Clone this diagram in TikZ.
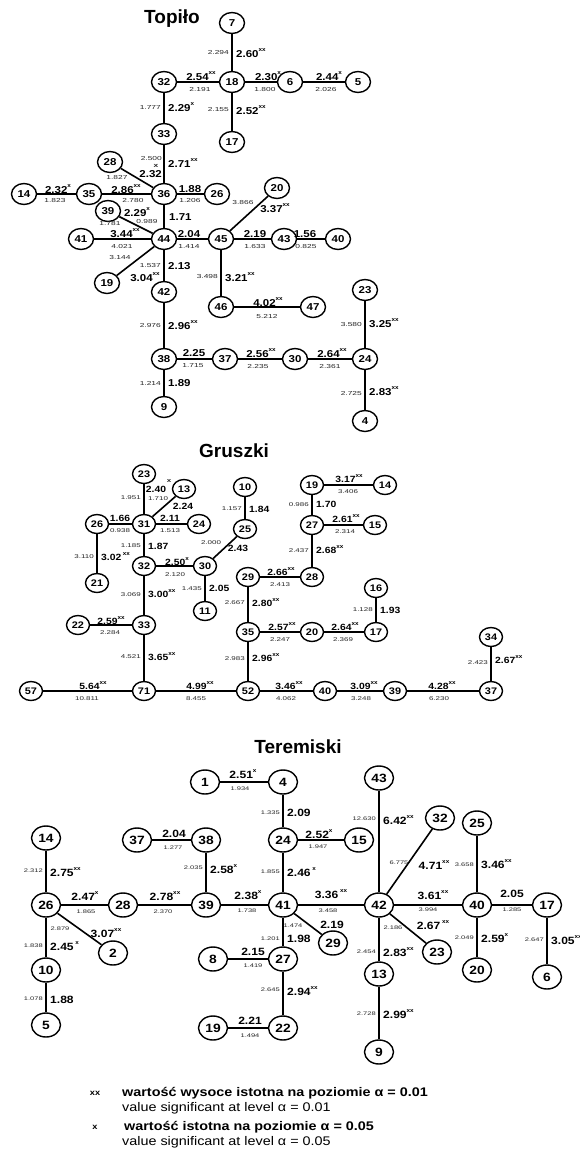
\documentclass[tikz,border=0pt]{standalone}
\usepackage{fontspec}
\setmainfont{Liberation Sans}[FakeStretch=1.15]
\newfontfamily\wsf[FakeStretch=1.45]{Liberation Sans}
\newfontfamily\ttf{Liberation Sans}
\usetikzlibrary{shapes.geometric}
\newcommand{\xxs}{\raisebox{0.55em}{\fontsize{5.5}{5.5}\selectfont\bfseries xx}}
\newcommand{\xs}{\raisebox{0.55em}{\fontsize{5.5}{5.5}\selectfont\bfseries x}}
\tikzset{
 nd/.style={draw, ellipse, line width=1.4pt, minimum width=25pt, minimum height=21pt, inner sep=0pt, fill=white, font=\bfseries\fontsize{10}{10}\selectfont},
 gnd/.style={nd, minimum width=23pt, minimum height=19pt, font=\bfseries\fontsize{9.5}{9.5}\selectfont},
 rnd/.style={nd, minimum width=29pt, minimum height=24pt, font=\bfseries\fontsize{12}{12}\selectfont},
 ed/.style={line width=1.6pt},
 bl/.style={inner sep=0pt, font=\bfseries\fontsize{10}{10}\selectfont},
 sl/.style={inner sep=0pt, font=\wsf\fontsize{5.8}{5.8}\selectfont, text=black!85},
 gbl/.style={bl, font=\bfseries\fontsize{9}{9}\selectfont},
 gsl/.style={sl, font=\wsf\fontsize{5.5}{5.5}\selectfont},
 rbl/.style={bl, font=\bfseries\fontsize{10.5}{10.5}\selectfont},
 rsl/.style={sl, font=\wsf\fontsize{5.2}{5.2}\selectfont},
 ttl/.style={inner sep=0pt, font=\ttf\bfseries\fontsize{19}{19}\selectfont},
 lgb/.style={inner sep=0pt, anchor=west, font=\bfseries\fontsize{12.5}{12.5}\selectfont},
 lgn/.style={inner sep=0pt, anchor=west, font=\fontsize{12.5}{12.5}\selectfont},
}
\begin{document}
\begin{tikzpicture}[x=1pt,y=-1pt]
\useasboundingbox (0,0) rectangle (580,1164);
\fill[white] (0,0) rectangle (580,1164);
% ================= Topilo =================
\node[ttl] (tT) at (172,19) {Topiło};
\node[nd] (T7) at (232,23) {7};
\node[nd] (T18) at (232,82) {18};
\node[nd] (T32) at (164,82) {32};
\node[nd] (T6) at (290,82) {6};
\node[nd] (T5) at (358,82) {5};
\node[nd] (T17) at (232,142) {17};
\node[nd] (T33) at (164,134) {33};
\node[nd] (T28) at (110,162) {28};
\node[nd] (T36) at (164,194) {36};
\node[nd] (T35) at (89,194) {35};
\node[nd] (T14) at (24,194) {14};
\node[nd] (T26) at (217,194) {26};
\node[nd] (T20) at (277,188) {20};
\node[nd] (T39) at (108,211) {39};
\node[nd] (T44) at (164,239) {44};
\node[nd] (T41) at (81,239) {41};
\node[nd] (T45) at (221,239) {45};
\node[nd] (T43) at (284,239) {43};
\node[nd] (T40) at (338,239) {40};
\node[nd] (T19) at (107,283) {19};
\node[nd] (T42) at (164,292) {42};
\node[nd] (T46) at (221,307) {46};
\node[nd] (T47) at (313,307) {47};
\node[nd] (T38) at (164,359) {38};
\node[nd] (T37) at (225,359) {37};
\node[nd] (T30) at (295,359) {30};
\node[nd] (T24) at (365,359) {24};
\node[nd] (T23) at (365,290) {23};
\node[nd] (T4) at (365,421) {4};
\node[nd] (T9) at (164,407) {9};
\foreach \a/\b in {T18/T7,T18/T32,T18/T6,T6/T5,T18/T17,T32/T33,T33/T36,T28/T36,T14/T35,T35/T36,T36/T26,T39/T44,T36/T44,T41/T44,T44/T45,T45/T43,T43/T40,T45/T20,T19/T44,T44/T42,T45/T46,T46/T47,T42/T38,T38/T37,T37/T30,T30/T24,T24/T23,T24/T4,T38/T9}
  \draw[ed] (\a) -- (\b);
\node[sl,anchor=east] (ta1) at (229,53) {2.294};
\node[bl,anchor=west] (ta2) at (236,53) {2.60\xxs};
\node[bl] (ta3) at (201,76) {2.54\xxs};
\node[sl] (ta4) at (200,90) {2.191};
\node[bl] (ta5) at (268,76) {2.30\xs};
\node[sl] (ta6) at (265,90) {1.800};
\node[bl] (ta7) at (329,76) {2.44\xs};
\node[sl] (ta8) at (326,90) {2.026};
\node[sl,anchor=east] (ta9) at (161,108) {1.777};
\node[bl,anchor=west] (ta10) at (168,107) {2.29\xs};
\node[sl,anchor=east] (ta11) at (229,110) {2.155};
\node[bl,anchor=west] (ta12) at (236,110) {2.52\xxs};
\node[sl,anchor=east] (ta13) at (162,159) {2.500};
\node[sl] (ta14) at (156,166) {\bfseries x};
\node[bl,anchor=west] (ta15) at (168,163) {2.71\xxs};
\node[bl,anchor=east] (ta16) at (162,174) {2.32};
\node[sl] (ta17) at (117,178) {1.827};
\node[bl] (ta18) at (58,189) {2.32\xs};
\node[sl] (ta19) at (55,201) {1.823};
\node[bl] (ta20) at (126,189) {2.86\xxs};
\node[sl] (ta21) at (133,201) {2.780};
\node[bl] (ta22) at (190,189) {1.88};
\node[sl] (ta23) at (190,201) {1.206};
\node[bl] (ta24) at (137,212) {2.29\xs};
\node[sl] (ta25) at (147,222) {0.989};
\node[sl] (ta26) at (110,224) {1.781};
\node[bl,anchor=west] (ta27) at (169,217) {1.71};
\node[bl] (ta28) at (125,233) {3.44\xxs};
\node[sl] (ta29) at (122,247) {4.021};
\node[bl] (ta30) at (189,234) {2.04};
\node[sl] (ta31) at (189,247) {1.414};
\node[bl] (ta32) at (255,234) {2.19};
\node[sl] (ta33) at (255,247) {1.633};
\node[bl] (ta34) at (305,234) {1.56};
\node[sl] (ta35) at (306,247) {0.825};
\node[sl] (ta36) at (243,203) {3.866};
\node[bl] (ta37) at (275,208) {3.37\xxs};
\node[sl] (ta38) at (120,258) {3.144};
\node[bl] (ta39) at (145,277) {3.04\xxs};
\node[sl,anchor=east] (ta40) at (161,266) {1.537};
\node[bl,anchor=west] (ta41) at (168,266) {2.13};
\node[sl,anchor=east] (ta42) at (218,277) {3.498};
\node[bl,anchor=west] (ta43) at (225,277) {3.21\xxs};
\node[bl] (ta44) at (268,302) {4.02\xxs};
\node[sl] (ta45) at (267,316) {5.212};
\node[sl,anchor=east] (ta46) at (161,325) {2.976};
\node[bl,anchor=west] (ta47) at (168,325) {2.96\xxs};
\node[bl] (ta48) at (194,353) {2.25};
\node[sl] (ta49) at (193,366) {1.715};
\node[bl] (ta50) at (261,353) {2.56\xxs};
\node[sl] (ta51) at (258,366) {2.235};
\node[bl] (ta52) at (332,353) {2.64\xxs};
\node[sl] (ta53) at (330,366) {2.361};
\node[sl,anchor=east] (ta54) at (362,324) {3.580};
\node[bl,anchor=west] (ta55) at (369,323) {3.25\xxs};
\node[sl,anchor=east] (ta56) at (362,393) {2.725};
\node[bl,anchor=west] (ta57) at (369,391) {2.83\xxs};
\node[sl,anchor=east] (ta58) at (161,383) {1.214};
\node[bl,anchor=west] (ta59) at (168,383) {1.89};
% ================= Gruszki =================
\node[ttl] (gT) at (234,451) {Gruszki};
\node[gnd] (G23) at (144,474) {23};
\node[gnd] (G13) at (184,489) {13};
\node[gnd] (G10) at (245,487) {10};
\node[gnd] (G26) at (97,524) {26};
\node[gnd] (G31) at (144,524) {31};
\node[gnd] (G24) at (199,524) {24};
\node[gnd] (G25) at (245,529) {25};
\node[gnd] (G19) at (312,485) {19};
\node[gnd] (G14) at (385,485) {14};
\node[gnd] (G27) at (312,525) {27};
\node[gnd] (G15) at (375,525) {15};
\node[gnd] (G32) at (144,566) {32};
\node[gnd] (G30) at (205,566) {30};
\node[gnd] (G21) at (97,583) {21};
\node[gnd] (G29) at (248,577) {29};
\node[gnd] (G28) at (312,577) {28};
\node[gnd] (G16) at (376,588) {16};
\node[gnd] (G11) at (205,611) {11};
\node[gnd] (G22) at (78,625) {22};
\node[gnd] (G33) at (144,625) {33};
\node[gnd] (G35) at (248,632) {35};
\node[gnd] (G20) at (312,632) {20};
\node[gnd] (G17) at (376,632) {17};
\node[gnd] (G34) at (491,637) {34};
\node[gnd] (G57) at (31,691) {57};
\node[gnd] (G71) at (144,691) {71};
\node[gnd] (G52) at (248,691) {52};
\node[gnd] (G40) at (325,691) {40};
\node[gnd] (G39) at (395,691) {39};
\node[gnd] (G37) at (491,691) {37};
\foreach \a/\b in {G23/G31,G31/G13,G26/G31,G31/G24,G26/G21,G31/G32,G32/G30,G30/G25,G25/G10,G30/G11,G32/G33,G22/G33,G33/G71,G57/G71,G71/G52,G52/G40,G40/G39,G39/G37,G37/G34,G52/G35,G35/G29,G29/G28,G28/G27,G27/G19,G19/G14,G27/G15,G35/G20,G20/G17,G17/G16}
  \draw[ed] (\a) -- (\b);
\node[gsl,anchor=east] (ga1) at (141,498) {1.951};
\node[gbl] (ga2) at (156,489) {2.40};
\node[gsl] (ga3) at (169,481) {\bfseries x};
\node[gsl] (ga4) at (158,499) {1.710};
\node[gbl] (ga5) at (183,506) {2.24};
\node[gbl] (ga6) at (120,518) {1.66};
\node[gsl] (ga7) at (120,531) {0.938};
\node[gbl] (ga8) at (170,518) {2.11};
\node[gsl] (ga9) at (170,531) {1.513};
\node[gsl,anchor=east] (ga10) at (141,546) {1.185};
\node[gbl,anchor=west] (ga11) at (148,546) {1.87};
\node[gsl,anchor=east] (ga12) at (94,557) {3.110};
\node[gbl,anchor=west] (ga13) at (101,557) {3.02\,\xxs};
\node[gbl] (ga14) at (177,562) {2.50\xs};
\node[gsl] (ga15) at (175,575) {2.120};
\node[gsl] (ga16) at (211,543) {2.000};
\node[gbl] (ga17) at (238,548) {2.43};
\node[gsl,anchor=east] (ga18) at (242,509) {1.157};
\node[gbl,anchor=west] (ga19) at (249,509) {1.84};
\node[gsl,anchor=east] (ga20) at (141,595) {3.069};
\node[gbl,anchor=west] (ga21) at (148,594) {3.00\xxs};
\node[gsl,anchor=east] (ga22) at (202,589) {1.435};
\node[gbl,anchor=west] (ga23) at (209,588) {2.05};
\node[gbl] (ga24) at (111,621) {2.59\xxs};
\node[gsl] (ga25) at (110,633) {2.284};
\node[gsl,anchor=east] (ga26) at (141,657) {4.521};
\node[gbl,anchor=west] (ga27) at (148,657) {3.65\xxs};
\node[gsl,anchor=east] (ga28) at (245,603) {2.667};
\node[gbl,anchor=west] (ga29) at (252,603) {2.80\xxs};
\node[gsl,anchor=east] (ga30) at (245,659) {2.983};
\node[gbl,anchor=west] (ga31) at (252,658) {2.96\xxs};
\node[gbl] (ga32) at (281,572) {2.66\xxs};
\node[gsl] (ga33) at (280,585) {2.413};
\node[gsl,anchor=east] (ga34) at (309,551) {2.437};
\node[gbl,anchor=west] (ga35) at (316,550) {2.68\xxs};
\node[gsl,anchor=east] (ga36) at (309,505) {0.986};
\node[gbl,anchor=west] (ga37) at (316,504) {1.70};
\node[gbl] (ga38) at (349,479) {3.17\xxs};
\node[gsl] (ga39) at (348,492) {3.406};
\node[gbl] (ga40) at (346,519) {2.61\xxs};
\node[gsl] (ga41) at (345,532) {2.314};
\node[gbl] (ga42) at (282,627) {2.57\xxs};
\node[gsl] (ga43) at (280,640) {2.247};
\node[gbl] (ga44) at (345,627) {2.64\xxs};
\node[gsl] (ga45) at (343,640) {2.369};
\node[gsl,anchor=east] (ga46) at (373,610) {1.128};
\node[gbl,anchor=west] (ga47) at (380,610) {1.93};
\node[gsl,anchor=east] (ga48) at (488,663) {2.423};
\node[gbl,anchor=west] (ga49) at (495,660) {2.67\xxs};
\node[gbl] (ga50) at (93,686) {5.64\xxs};
\node[gsl] (ga51) at (87,699) {10.811};
\node[gbl] (ga52) at (200,686) {4.99\xxs};
\node[gsl] (ga53) at (196,699) {8.455};
\node[gbl] (ga54) at (289,686) {3.46\xxs};
\node[gsl] (ga55) at (286,699) {4.062};
\node[gbl] (ga56) at (364,686) {3.09\xxs};
\node[gsl] (ga57) at (361,699) {3.248};
\node[gbl] (ga58) at (442,686) {4.28\xxs};
\node[gsl] (ga59) at (439,699) {6.230};
% ================= Teremiski =================
\node[ttl] (rT) at (298,747) {Teremiski};
\node[rnd] (R1) at (205,782) {1};
\node[rnd] (R4) at (283,782) {4};
\node[rnd] (R43) at (379,778) {43};
\node[rnd] (R14) at (46,838) {14};
\node[rnd] (R37) at (137,840) {37};
\node[rnd] (R38) at (206,840) {38};
\node[rnd] (R24) at (283,840) {24};
\node[rnd] (R15) at (359,840) {15};
\node[rnd] (R32) at (440,818) {32};
\node[rnd] (R25) at (477,823) {25};
\node[rnd] (R26) at (46,905) {26};
\node[rnd] (R28) at (123,905) {28};
\node[rnd] (R39) at (206,905) {39};
\node[rnd] (R41) at (283,905) {41};
\node[rnd] (R42) at (379,905) {42};
\node[rnd] (R40) at (477,905) {40};
\node[rnd] (R17) at (547,905) {17};
\node[rnd] (R2) at (113,953) {2};
\node[rnd] (R29) at (333,943) {29};
\node[rnd] (R23) at (437,952) {23};
\node[rnd] (R8) at (213,959) {8};
\node[rnd] (R27) at (283,959) {27};
\node[rnd] (R10) at (46,970) {10};
\node[rnd] (R13) at (379,974) {13};
\node[rnd] (R20) at (477,970) {20};
\node[rnd] (R6) at (547,977) {6};
\node[rnd] (R5) at (46,1025) {5};
\node[rnd] (R19) at (213,1028) {19};
\node[rnd] (R22) at (283,1028) {22};
\node[rnd] (R9) at (379,1052) {9};
\foreach \a/\b in {R1/R4,R4/R24,R24/R15,R24/R41,R37/R38,R38/R39,R14/R26,R26/R28,R28/R39,R39/R41,R41/R42,R26/R2,R26/R10,R10/R5,R41/R29,R41/R27,R8/R27,R27/R22,R19/R22,R42/R43,R42/R32,R42/R23,R42/R13,R13/R9,R42/R40,R40/R25,R40/R20,R40/R17,R17/R6}
  \draw[ed] (\a) -- (\b);
\node[rbl] (ra1) at (243,774) {2.51\xs};
\node[rsl] (ra2) at (240,789) {1.934};
\node[rsl,anchor=east] (ra3) at (280,813) {1.335};
\node[rbl,anchor=west] (ra4) at (287,813) {2.09};
\node[rbl] (ra5) at (319,834) {2.52\xs};
\node[rsl] (ra6) at (318,847) {1.947};
\node[rsl,anchor=east] (ra7) at (280,872) {1.855};
\node[rbl,anchor=west] (ra8) at (287,872) {2.46\,\xs};
\node[rbl] (ra9) at (174,834) {2.04};
\node[rsl] (ra10) at (173,848) {1.277};
\node[rsl,anchor=east] (ra11) at (203,868) {2.035};
\node[rbl,anchor=west] (ra12) at (210,869) {2.58\xs};
\node[rsl,anchor=east] (ra13) at (43,871) {2.312};
\node[rbl,anchor=west] (ra14) at (50,872) {2.75\xxs};
\node[rbl] (ra15) at (85,896) {2.47\xs};
\node[rsl] (ra16) at (86,912) {1.865};
\node[rbl] (ra17) at (165,896) {2.78\xxs};
\node[rsl] (ra18) at (163,912) {2.370};
\node[rbl] (ra19) at (248,895) {2.38\xs};
\node[rsl] (ra20) at (247,911) {1.738};
\node[rbl] (ra21) at (331,894) {3.36\,\xxs};
\node[rsl] (ra22) at (328,911) {3.458};
\node[rsl,anchor=east] (ra23) at (376,819) {12.630};
\node[rbl,anchor=west] (ra24) at (383,820) {6.42\xxs};
\node[rsl] (ra25) at (399,863) {6.775};
\node[rbl] (ra26) at (434,865) {4.71\xxs};
\node[rsl,anchor=east] (ra27) at (474,865) {3.658};
\node[rbl,anchor=west] (ra28) at (481,864) {3.46\xxs};
\node[rbl] (ra29) at (433,895) {3.61\xxs};
\node[rsl] (ra30) at (428,910) {3.994};
\node[rbl] (ra31) at (512,894) {2.05};
\node[rsl] (ra32) at (512,910) {1.285};
\node[rsl] (ra33) at (393,928) {2.186};
\node[rbl] (ra34) at (433,925) {2.67\,\xxs};
\node[rsl,anchor=east] (ra35) at (376,952) {2.454};
\node[rbl,anchor=west] (ra36) at (383,952) {2.83\xxs};
\node[rsl,anchor=east] (ra37) at (376,1014) {2.728};
\node[rbl,anchor=west] (ra38) at (383,1014) {2.99\xxs};
\node[rsl,anchor=east] (ra39) at (474,938) {2.049};
\node[rbl,anchor=west] (ra40) at (481,938) {2.59\xs};
\node[rsl,anchor=east] (ra41) at (544,940) {2.647};
\node[rbl,anchor=west] (ra42) at (551,940) {3.05\xxs};
\node[rsl] (ra43) at (293,926) {1.474};
\node[rbl] (ra44) at (332,925) {2.19};
\node[rsl,anchor=east] (ra45) at (280,939) {1.201};
\node[rbl,anchor=west] (ra46) at (287,939) {1.98};
\node[rbl] (ra47) at (253,952) {2.15};
\node[rsl] (ra48) at (253,966) {1.419};
\node[rsl,anchor=east] (ra49) at (280,990) {2.645};
\node[rbl,anchor=west] (ra50) at (287,991) {2.94\xxs};
\node[rbl] (ra51) at (250,1021) {2.21};
\node[rsl] (ra52) at (250,1036) {1.494};
\node[rsl] (ra53) at (60,929) {2.879};
\node[rbl] (ra54) at (106,933) {3.07\xxs};
\node[rsl,anchor=east] (ra55) at (43,946) {1.838};
\node[rbl,anchor=west] (ra56) at (50,946) {2.45\,\xs};
\node[rsl,anchor=east] (ra57) at (43,999) {1.078};
\node[rbl,anchor=west] (ra58) at (50,1000) {1.88};
% ================= Legend =================
\node[inner sep=0pt, font=\bfseries\fontsize{8}{8}\selectfont] (lg1) at (95,1093) {xx};
\node[lgb] (lg2) at (122,1093) {wartość wysoce istotna na poziomie α = 0.01};
\node[lgn] (lg3) at (122,1108) {value significant at level α = 0.01};
\node[inner sep=0pt, font=\bfseries\fontsize{8}{8}\selectfont] (lg4) at (95,1127) {x};
\node[lgb] (lg5) at (124,1127) {wartość istotna na poziomie α = 0.05};
\node[lgn] (lg6) at (122,1142) {value significant at level α = 0.05};
\end{tikzpicture}
\end{document}
